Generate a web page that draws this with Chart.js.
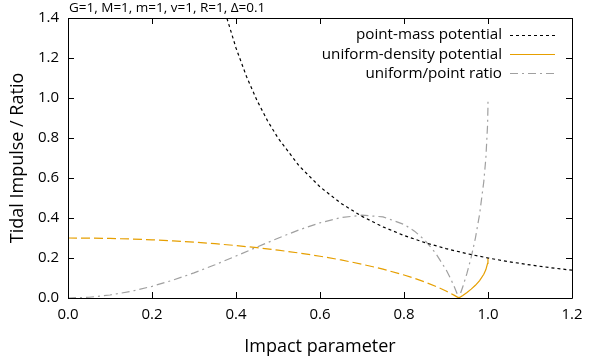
<!DOCTYPE html>
<html><head><meta charset="utf-8">
<script src="https://cdn.jsdelivr.net/npm/chart.js@4.4.0/dist/chart.umd.min.js"></script>
<style>html,body{margin:0;padding:0;background:#fff}</style>
</head><body>
<canvas id="c" width="600" height="360"></canvas>
<script>
// Impact parameter samples inside the sphere (R = 1)
const impactB = [0, 0.05, 0.1, 0.15, 0.2, 0.25, 0.3, 0.35, 0.4, 0.45, 0.5, 0.55, 0.6, 0.65, 0.7, 0.75, 0.8, 0.825, 0.85, 0.875, 0.9, 0.91, 0.92, 0.93, 0.9306, 0.94, 0.95, 0.96, 0.97, 0.98, 0.99, 0.995, 0.999, 0.9999, 1.0];
const uniformVals = [0.3, 0.2995, 0.2977, 0.2949, 0.2909, 0.2857, 0.2792, 0.2714, 0.2623, 0.2516, 0.2392, 0.2251, 0.2089, 0.1903, 0.1690, 0.1442, 0.1150, 0.0983, 0.0797, 0.0589, 0.0351, 0.0245, 0.0131, 0.0008, 0, 0.0127, 0.0275, 0.0443, 0.0636, 0.0872, 0.1189, 0.1419, 0.1736, 0.1916, 0.2];
const ratioVals = [0, 0.0037, 0.0149, 0.0332, 0.0582, 0.0893, 0.1256, 0.1663, 0.2098, 0.2547, 0.2990, 0.3404, 0.3760, 0.4021, 0.4140, 0.4056, 0.3680, 0.3344, 0.2880, 0.2254, 0.1420, 0.1013, 0.0554, 0.0034, 0, 0.0559, 0.1241, 0.2039, 0.2994, 0.4188, 0.5824, 0.7024, 0.8660, 0.9576, 1.0];
const zeroCrossing = 0.9306;
// Point-mass potential
const pointB = [0.36, 0.375, 0.4, 0.425, 0.45, 0.475, 0.5, 0.55, 0.6, 0.65, 0.7, 0.75, 0.8, 0.85, 0.9, 0.95, 1.0, 1.05, 1.1, 1.15, 1.2];
const pointVals = [1.5432, 1.4222, 1.25, 1.1073, 0.9877, 0.8864, 0.8, 0.6612, 0.5556, 0.4734, 0.4082, 0.3556, 0.3125, 0.2768, 0.2469, 0.2216, 0.2, 0.1814, 0.1653, 0.1512, 0.1389];
const seriesNames = ['point-mass potential', 'uniform-density potential', 'uniform/point ratio'];
const paramText = 'G=1, M=1, m=1, v=1, R=1, \u0394=0.1';
const xTitle = 'Impact parameter';
const yTitle = 'Tidal Impulse / Ratio';

const FONT = '"Open Sans", "DejaVu Sans", sans-serif';
const toXY = (xs, ys) => xs.map((x, i) => ({x, y: ys[i]}));
const allUniform = toXY(impactB, uniformVals);
const innerUniform = allUniform.filter(p => p.x <= zeroCrossing);
const outerUniform = allUniform.filter(p => p.x >= zeroCrossing);

const ORANGE = '#e69f00', GREY = '#a0a0a0';

const framePlugin = {
  id: 'frame',
  afterDatasetsDraw(chart) {
    const {ctx, chartArea: a, scales: {x, y}} = chart;
    ctx.save();
    ctx.strokeStyle = '#000';
    ctx.lineWidth = 1;
    ctx.setLineDash([]);
    ctx.beginPath();
    ctx.rect(Math.round(a.left) + 0.5, Math.round(a.top) + 0.5, Math.round(a.right - a.left), Math.round(a.bottom - a.top));
    ctx.stroke();
    const L = 6;
    ctx.beginPath();
    x.ticks.forEach(t => {
      const px = Math.round(x.getPixelForValue(t.value)) + 0.5;
      ctx.moveTo(px, a.bottom); ctx.lineTo(px, a.bottom - L);
      ctx.moveTo(px, a.top); ctx.lineTo(px, a.top + L);
    });
    y.ticks.forEach(t => {
      const py = Math.round(y.getPixelForValue(t.value)) + 0.5;
      ctx.moveTo(a.left, py); ctx.lineTo(a.left + L, py);
      ctx.moveTo(a.right, py); ctx.lineTo(a.right - L, py);
    });
    ctx.stroke();
    // parameter annotation
    ctx.fillStyle = '#000';
    ctx.font = '13.5px ' + FONT;
    ctx.textAlign = 'left';
    ctx.textBaseline = 'middle';
    ctx.fillText(paramText, a.left + 1, 8);
    // legend
    ctx.font = '15.2px ' + FONT;
    ctx.textAlign = 'right';
    const legendSets = [0, 2, 3];
    legendSets.forEach((di, i) => {
      const ds = chart.data.datasets[di];
      const yy = 35 + i * 19.2;
      ctx.fillStyle = '#000';
      ctx.fillText(ds.label, 502, yy);
      ctx.strokeStyle = ds.borderColor;
      ctx.lineWidth = ds.borderWidth;
      ctx.setLineDash(ds.borderDash || []);
      ctx.beginPath();
      ctx.moveTo(510, Math.round(yy) + 0.5);
      ctx.lineTo(555, Math.round(yy) + 0.5);
      ctx.stroke();
    });
    ctx.restore();
  }
};

new Chart(document.getElementById('c'), {
  type: 'scatter',
  data: {
    datasets: [
      {label: seriesNames[0], data: toXY(pointB, pointVals), showLine: true, borderColor: '#000', borderWidth: 1.2, borderDash: [3, 3], pointRadius: 0, tension: 0},
      {label: seriesNames[1], data: innerUniform, showLine: true, borderColor: ORANGE, borderWidth: 1.2, borderDash: [9, 4], pointRadius: 0, tension: 0},
      {label: seriesNames[1], data: outerUniform, showLine: true, borderColor: ORANGE, borderWidth: 1.2, pointRadius: 0, tension: 0},
      {label: seriesNames[2], data: toXY(impactB, ratioVals), showLine: true, borderColor: GREY, borderWidth: 1.2, borderDash: [8, 4, 2, 4], pointRadius: 0, tension: 0}
    ]
  },
  options: {
    responsive: false,
    animation: false,
    devicePixelRatio: 1,
    layout: {padding: {top: 18, right: 28, left: 0, bottom: 0}},
    plugins: {legend: {display: false}, tooltip: {enabled: false}},
    scales: {
      x: {
        type: 'linear', min: 0, max: 1.2,
        grid: {display: false, drawTicks: false},
        border: {display: false},
        ticks: {stepSize: 0.2, color: '#000', font: {family: FONT, size: 15}, padding: 8, maxRotation: 0,
                callback: v => v.toFixed(1)},
        title: {display: true, text: xTitle, color: '#000', font: {family: FONT, size: 18}, padding: {top: 0, bottom: 2}},
        afterFit: s => { s.height = 62; }
      },
      y: {
        type: 'linear', min: 0, max: 1.4,
        grid: {display: false, drawTicks: false},
        border: {display: false},
        ticks: {stepSize: 0.2, color: '#000', font: {family: FONT, size: 15}, padding: 9,
                callback: v => v.toFixed(1)},
        title: {display: true, text: yTitle, color: '#000', font: {family: FONT, size: 18}, padding: {top: 7, bottom: 0}},
        afterFit: s => { s.width = 68; }
      }
    }
  },
  plugins: [framePlugin]
});
</script>
</body></html>
